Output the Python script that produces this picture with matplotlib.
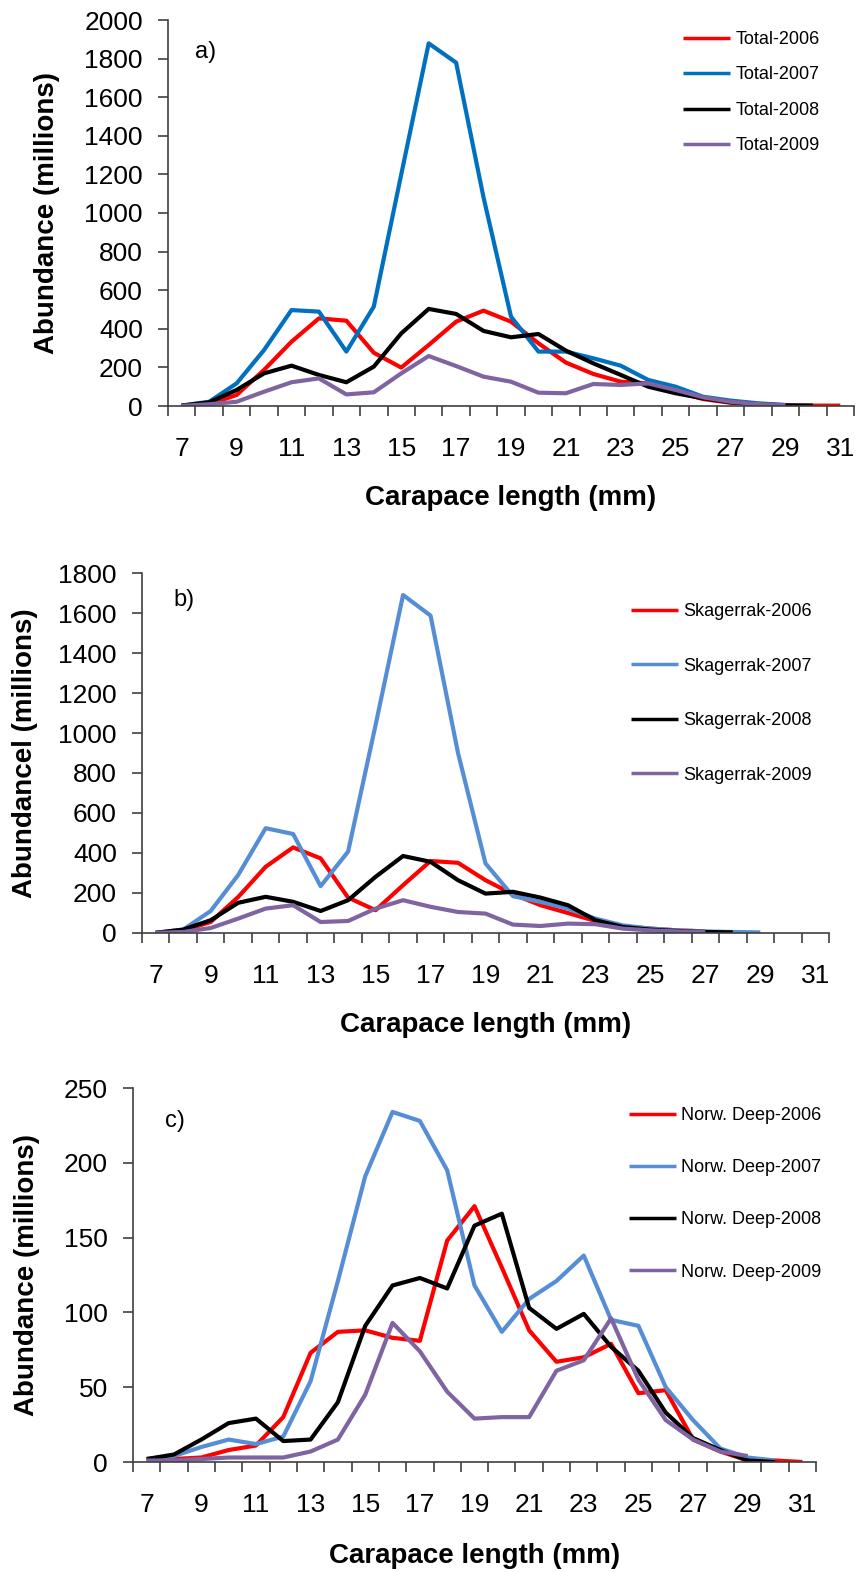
import numpy as np
import matplotlib
matplotlib.use('Agg')
import matplotlib.pyplot as plt
from matplotlib.ticker import FixedLocator, NullFormatter, FixedFormatter

plt.rcParams['font.family'] = ['Liberation Sans', 'DejaVu Sans']

nan = np.nan

# carapace length classes (mm)
lengths = list(range(7, 32))
tick_labels = [str(v) for v in range(7, 32, 2)]

# a) Total
total_2006 = [2, 10, 57, 187, 333, 454, 442, 276, 199, 316, 437, 494, 437,
              325, 225, 166, 126, 117, 74, 36, 17, 9, 4, 2, 2]
total_2007 = [2, 22, 117, 290, 497, 489, 282, 515, 1200, 1879, 1779, 1080, 463,
              282, 282, 247, 209, 135, 100, 48, 28, 14, 5, nan, nan]
total_2008 = [2, 19, 83, 169, 209, 161, 123, 204, 376, 503, 477, 389, 356,
              373, 287, 221, 161, 100, 66, 40, 19, 9, 3, 2, nan]
total_2009 = [1, 9, 22, 74, 123, 143, 60, 71, 169, 259, 207, 152, 126,
              69, 66, 114, 109, 117, 83, 45, 22, 10, 5, nan, nan]

# b) Skagerrak
skag_2006 = [1, 13, 55, 180, 331, 428, 373, 177, 114, 239, 360, 351, 264,
             194, 139, 100, 60, 33, 22, 13, 8, nan, nan, nan, nan]
skag_2007 = [1, 17, 110, 290, 524, 495, 234, 407, 1040, 1690, 1587, 900, 348,
             184, 156, 122, 72, 38, 22, 13, 8, 5, 3, nan, nan]
skag_2008 = [1, 17, 64, 151, 181, 156, 110, 164, 281, 385, 356, 264, 197,
             206, 177, 139, 64, 30, 17, 10, 5, 3, nan, nan, nan]
skag_2009 = [1, 5, 25, 72, 122, 139, 55, 60, 122, 164, 131, 105, 97,
             42, 35, 47, 44, 22, 13, 8, 5, nan, nan, nan, nan]

# c) Norwegian Deep
deep_2006 = [1, 2, 3, 8, 11, 30, 73, 87, 88, 83, 81, 148, 171,
             130, 88, 67, 70, 79, 46, 48, 15, 7, 1, 1, 0]
deep_2007 = [2, 4, 10, 15, 12, 17, 54, 121, 191, 234, 228, 195, 118,
             87, 109, 121, 138, 95, 91, 50, 28, 9, 3, 1, nan]
deep_2008 = [2, 5, 15, 26, 29, 14, 15, 40, 91, 118, 123, 116, 158,
             166, 103, 89, 99, 77, 61, 33, 16, 8, 1, 0, nan]
deep_2009 = [1, 1, 2, 3, 3, 3, 7, 15, 45, 93, 74, 47, 29,
             30, 30, 61, 68, 96, 55, 28, 15, 7, 4, nan, nan]

W, H = 858, 1572
fig = plt.figure(figsize=(W / 100, H / 100), dpi=100)


def px_axes(left, right, top, bottom):
    """axes from pixel box (y from top of figure)"""
    return fig.add_axes([left / W, 1 - bottom / H, (right - left) / W, (bottom - top) / H])


def panel(ax, series, names, colors, ymax, ystep, ylabel, tag, tag_xy, leg_xy, leg_spacing):
    x = np.array(lengths)
    for vals, name, c in zip(series, names, colors):
        ax.plot(x, vals, color=c, lw=3.0, label=name,
                solid_joinstyle='round', solid_capstyle='butt')

    ax.set_xlim(6.5, 31.5)
    ax.set_ylim(0, ymax)
    ax.set_yticks(np.arange(0, ymax + 1, ystep))

    # category axis: ticks between classes, labels on every second class
    ax.xaxis.set_major_locator(FixedLocator(np.arange(6.5, 32, 1.0)))
    ax.xaxis.set_major_formatter(NullFormatter())
    ax.xaxis.set_minor_locator(FixedLocator(np.arange(7, 32, 2)))
    ax.xaxis.set_minor_formatter(FixedFormatter(tick_labels))
    ax.tick_params(axis='x', which='major', direction='out', length=7, width=1.2, color='#404040')
    ax.tick_params(axis='x', which='minor', length=0, pad=22.5, labelsize=19)
    ax.tick_params(axis='y', direction='out', length=7, width=1.2, color='#404040',
                   pad=11, labelsize=19)

    for s in ['top', 'right']:
        ax.spines[s].set_visible(False)
    for s in ['left', 'bottom']:
        ax.spines[s].set_color('#404040')
        ax.spines[s].set_linewidth(1.2)

    ax.set_xlabel('Carapace length (mm)', fontsize=20, fontweight='bold', va='center')
    ax.set_ylabel(ylabel, fontsize=20, fontweight='bold', va='center')

    fig.text(tag_xy[0] / W, 1 - tag_xy[1] / H, tag, fontsize=17, ha='center', va='center')

    leg = ax.legend(loc='upper left', bbox_to_anchor=(leg_xy[0] / W, 1 - leg_xy[1] / H),
                    bbox_transform=fig.transFigure, frameon=False, fontsize=13,
                    handlelength=2.6, handletextpad=0.3, labelspacing=leg_spacing,
                    borderpad=0, borderaxespad=0)
    for h in leg.get_lines():
        h.set_linewidth(2.5)
    return leg


red = '#FF0000'
purple = '#8064A2'

# a)
ax1 = px_axes(168, 854, 20, 406)
panel(ax1, [total_2006, total_2007, total_2008, total_2009],
      ['Total-2006', 'Total-2007', 'Total-2008', 'Total-2009'],
      [red, '#0070C0', 'black', purple], 2000, 200,
      'Abundance (millions)', 'a)', (206, 52), (683, 31), 1.02)
ax1.xaxis.set_label_coords(0.5, -92 / 386)
ax1.yaxis.set_label_coords(-(168 - 47) / 686, 0.5)

# b)
ax2 = px_axes(142, 829, 573, 933)
panel(ax2, [skag_2006, skag_2007, skag_2008, skag_2009],
      ['Skagerrak-2006', 'Skagerrak-2007', 'Skagerrak-2008', 'Skagerrak-2009'],
      [red, '#558ED5', 'black', purple], 1800, 200,
      'Abundancel (millions)', 'b)', (184, 600), (631, 603), 2.08)
ax2.xaxis.set_label_coords(0.5, -92 / 360)
ax2.yaxis.set_label_coords(-(142 - 25) / 687, 0.5)

# c)
ax3 = px_axes(133, 816, 1088, 1462)
panel(ax3, [deep_2006, deep_2007, deep_2008, deep_2009],
      ['Norw. Deep-2006', 'Norw. Deep-2007', 'Norw. Deep-2008', 'Norw. Deep-2009'],
      [red, '#558ED5', 'black', purple], 250, 50,
      'Abundance (millions)', 'c)', (175, 1121), (629, 1107), 1.95)
ax3.xaxis.set_label_coords(0.5, -94 / 374)
ax3.yaxis.set_label_coords(-(133 - 27) / 683, 0.5)

fig.savefig('out.png', dpi=100)
